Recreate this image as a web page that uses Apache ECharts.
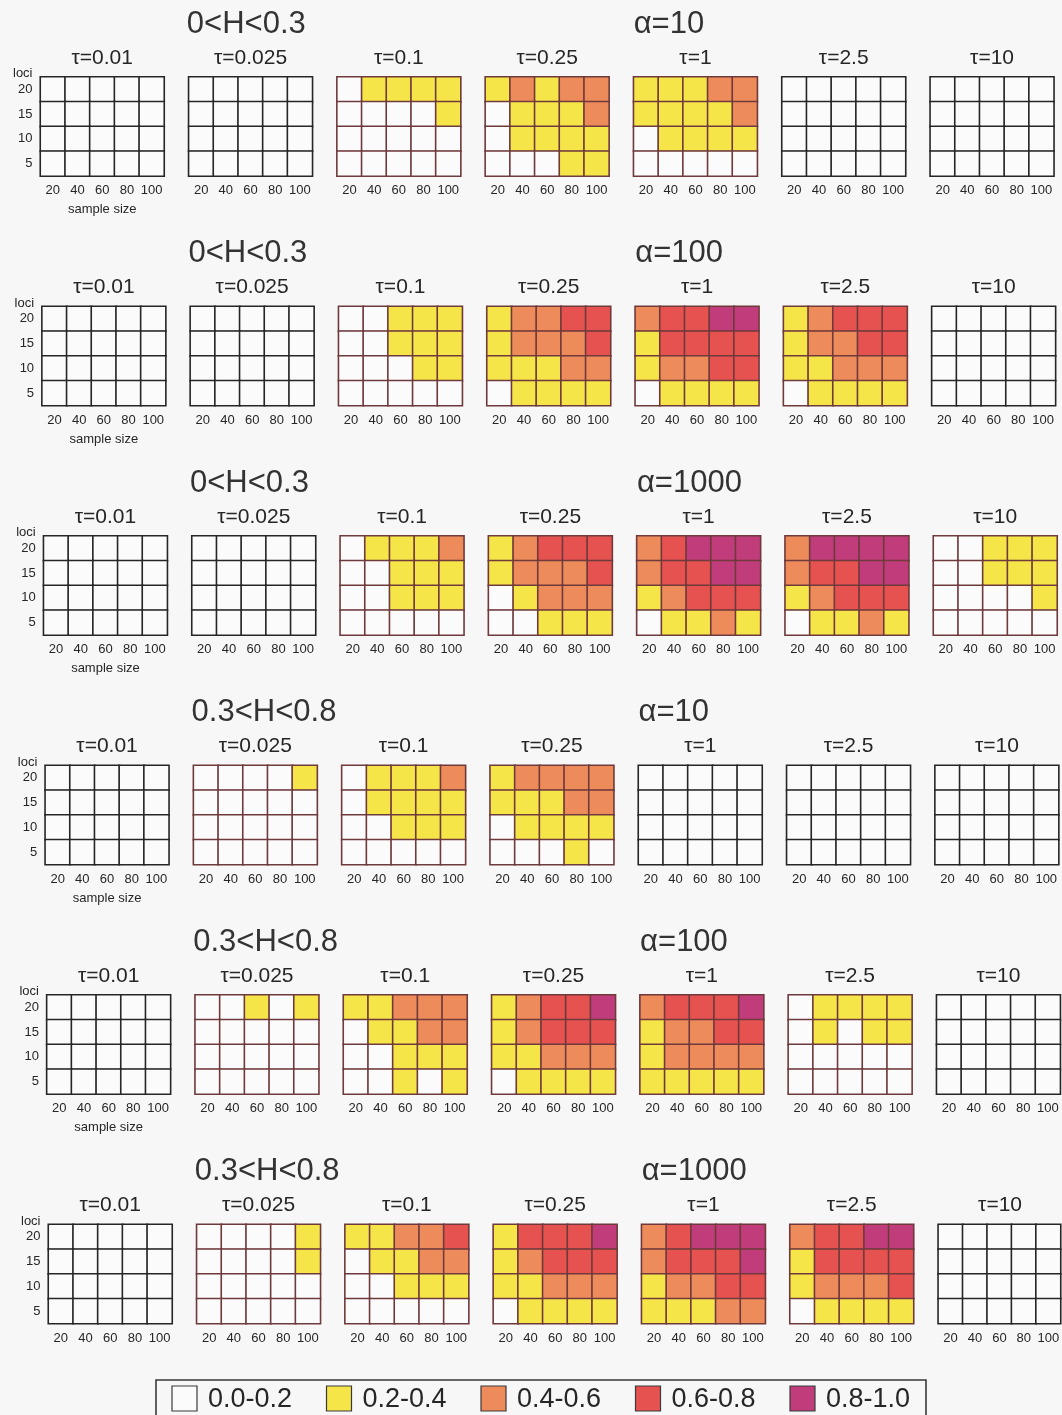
<!DOCTYPE html>
<html>
<head>
<meta charset="utf-8">
<title>Detection frequency by sample size and number of loci</title>
<script src="https://cdn.jsdelivr.net/npm/echarts/dist/echarts.min.js"></script>
<style>
  html, body { margin: 0; padding: 0; background: #f7f7f7; }
  #chart { width: 1062px; height: 1415px; }
</style>
</head>
<body>
<div id="chart"></div>
<script>
// Axis categories
const sampleSizes = ['20', '40', '60', '80', '100'];
const lociCounts = ['5', '10', '15', '20'];

// Panel and row captions
const tauLabels = ['τ=0.01', 'τ=0.025', 'τ=0.1', 'τ=0.25', 'τ=1', 'τ=2.5', 'τ=10'];
const heterozygosityLabels = ['0<H<0.3', '0<H<0.3', '0<H<0.3', '0.3<H<0.8', '0.3<H<0.8', '0.3<H<0.8'];
const alphaLabels = ['α=10', 'α=100', 'α=1000', 'α=10', 'α=100', 'α=1000'];

// Frequency classes (index 0..4)
const classLabels = ['0.0-0.2', '0.2-0.4', '0.4-0.6', '0.6-0.8', '0.8-1.0'];
const classColors = ['#fbfbfb', '#f6e548', '#ee8b5b', '#e5524f', '#c03c7a'];

// Frequency class per cell, one 4x5 block per tau value.
// Block rows run loci 20, 15, 10, 5; columns run sample size 20 .. 100.
const lowH_alpha10 = [
  [[0,0,0,0,0],[0,0,0,0,0],[0,0,0,0,0],[0,0,0,0,0]],
  [[0,0,0,0,0],[0,0,0,0,0],[0,0,0,0,0],[0,0,0,0,0]],
  [[0,1,1,1,1],[0,0,0,0,1],[0,0,0,0,0],[0,0,0,0,0]],
  [[1,2,1,2,2],[0,1,1,1,2],[0,1,1,1,1],[0,0,0,1,1]],
  [[1,1,1,2,2],[1,1,1,1,2],[0,1,1,1,1],[0,0,0,0,0]],
  [[0,0,0,0,0],[0,0,0,0,0],[0,0,0,0,0],[0,0,0,0,0]],
  [[0,0,0,0,0],[0,0,0,0,0],[0,0,0,0,0],[0,0,0,0,0]]
];
const lowH_alpha100 = [
  [[0,0,0,0,0],[0,0,0,0,0],[0,0,0,0,0],[0,0,0,0,0]],
  [[0,0,0,0,0],[0,0,0,0,0],[0,0,0,0,0],[0,0,0,0,0]],
  [[0,0,1,1,1],[0,0,1,1,1],[0,0,0,1,1],[0,0,0,0,0]],
  [[1,2,2,3,3],[1,2,2,2,3],[1,1,1,2,2],[0,1,1,1,1]],
  [[2,3,3,4,4],[1,3,3,3,3],[1,2,2,3,3],[0,1,1,1,1]],
  [[1,2,3,3,3],[1,2,2,3,3],[1,1,2,2,2],[0,1,1,1,1]],
  [[0,0,0,0,0],[0,0,0,0,0],[0,0,0,0,0],[0,0,0,0,0]]
];
const lowH_alpha1000 = [
  [[0,0,0,0,0],[0,0,0,0,0],[0,0,0,0,0],[0,0,0,0,0]],
  [[0,0,0,0,0],[0,0,0,0,0],[0,0,0,0,0],[0,0,0,0,0]],
  [[0,1,1,1,2],[0,0,1,1,1],[0,0,1,1,1],[0,0,0,0,0]],
  [[1,2,3,3,3],[1,2,2,2,3],[0,1,2,2,2],[0,0,1,1,1]],
  [[2,3,4,4,4],[2,3,3,4,4],[1,2,3,3,3],[0,1,1,2,1]],
  [[2,4,4,4,4],[2,3,3,4,4],[1,2,3,3,3],[0,1,1,2,1]],
  [[0,0,1,1,1],[0,0,1,1,1],[0,0,0,0,1],[0,0,0,0,0]]
];
const midH_alpha10 = [
  [[0,0,0,0,0],[0,0,0,0,0],[0,0,0,0,0],[0,0,0,0,0]],
  [[0,0,0,0,1],[0,0,0,0,0],[0,0,0,0,0],[0,0,0,0,0]],
  [[0,1,1,1,2],[0,1,1,1,1],[0,0,1,1,1],[0,0,0,0,0]],
  [[1,2,2,2,2],[1,1,1,2,2],[0,1,1,1,1],[0,0,0,1,0]],
  [[0,0,0,0,0],[0,0,0,0,0],[0,0,0,0,0],[0,0,0,0,0]],
  [[0,0,0,0,0],[0,0,0,0,0],[0,0,0,0,0],[0,0,0,0,0]],
  [[0,0,0,0,0],[0,0,0,0,0],[0,0,0,0,0],[0,0,0,0,0]]
];
const midH_alpha100 = [
  [[0,0,0,0,0],[0,0,0,0,0],[0,0,0,0,0],[0,0,0,0,0]],
  [[0,0,1,0,1],[0,0,0,0,0],[0,0,0,0,0],[0,0,0,0,0]],
  [[1,1,2,2,2],[0,1,1,2,2],[0,0,1,1,1],[0,0,1,0,1]],
  [[1,2,3,3,4],[1,2,3,3,3],[1,1,2,2,2],[0,1,1,1,1]],
  [[2,3,3,3,4],[1,2,2,3,3],[1,2,2,2,2],[1,1,1,1,1]],
  [[0,1,1,1,1],[0,1,0,1,1],[0,0,0,0,0],[0,0,0,0,0]],
  [[0,0,0,0,0],[0,0,0,0,0],[0,0,0,0,0],[0,0,0,0,0]]
];
const midH_alpha1000 = [
  [[0,0,0,0,0],[0,0,0,0,0],[0,0,0,0,0],[0,0,0,0,0]],
  [[0,0,0,0,1],[0,0,0,0,1],[0,0,0,0,0],[0,0,0,0,0]],
  [[1,1,2,2,3],[0,1,1,2,2],[0,0,1,1,1],[0,0,0,0,0]],
  [[1,3,3,3,4],[1,2,3,3,3],[1,1,2,2,2],[0,1,1,1,1]],
  [[2,3,4,4,4],[2,3,3,3,4],[1,2,2,3,3],[1,1,1,2,2]],
  [[2,3,3,4,4],[1,3,3,3,3],[1,2,2,2,3],[0,1,1,1,1]],
  [[0,0,0,0,0],[0,0,0,0,0],[0,0,0,0,0],[0,0,0,0,0]]
];

const panelRows = [lowH_alpha10, lowH_alpha100, lowH_alpha1000, midH_alpha10, midH_alpha100, midH_alpha1000];

// Layout
const FONT = "'Liberation Sans', Arial, Helvetica, sans-serif";
const PANEL_W = 123.5, PANEL_H = 99;
const STEP_X = 148.3, STEP_Y = 229.5;
const FIRST_LEFT = 40.5, ROW_DRIFT = 1.6, FIRST_TOP = 77;
const TEXT_COLOR = '#262626';

const grids = [], xAxes = [], yAxes = [], series = [], graphics = [];

panelRows.forEach((panels, r) => {
  const top = FIRST_TOP + r * STEP_Y;
  const rowLeft = FIRST_LEFT + ROW_DRIFT * r;

  panels.forEach((cells, c) => {
    const left = rowLeft + c * STEP_X;
    const idx = grids.length;
    const hasSignal = cells.some(row => row.some(v => v > 0));

    grids.push({ left, top, width: PANEL_W, height: PANEL_H });

    xAxes.push({
      type: 'category', gridIndex: idx, data: sampleSizes,
      axisLine: { show: false }, axisTick: { show: false }, splitLine: { show: false },
      axisLabel: { interval: 0, margin: 8, fontSize: 13, color: TEXT_COLOR, fontFamily: FONT },
      name: (c === 0 && r < panelRows.length - 1) ? 'sample size' : '',
      nameLocation: 'middle', nameGap: 27,
      nameTextStyle: { fontSize: 13, color: TEXT_COLOR, fontFamily: FONT }
    });

    yAxes.push({
      type: 'category', gridIndex: idx, data: lociCounts,
      axisLine: { show: false }, axisTick: { show: false }, splitLine: { show: false },
      axisLabel: { show: c === 0, interval: 0, margin: 8, fontSize: 13, color: TEXT_COLOR, fontFamily: FONT },
      name: c === 0 ? 'loci' : '',
      nameLocation: 'end', nameGap: -3,
      nameTextStyle: { fontSize: 13, color: TEXT_COLOR, fontFamily: FONT, align: 'right', verticalAlign: 'bottom', padding: [0, 8, 0, 0] }
    });

    const data = [];
    cells.forEach((row, i) => row.forEach((v, j) => data.push([j, lociCounts.length - 1 - i, v])));

    series.push({
      type: 'heatmap', xAxisIndex: idx, yAxisIndex: idx, data,
      itemStyle: { borderColor: hasSignal ? '#6f3a3c' : '#262626', borderWidth: 1.6 },
      emphasis: { disabled: true }, silent: true
    });

    graphics.push({
      type: 'text', x: left + PANEL_W / 2, y: top - 19,
      style: { text: tauLabels[c], fontSize: 21, fontFamily: FONT, fill: TEXT_COLOR, align: 'center', verticalAlign: 'middle' }
    });
  });

  graphics.push({
    type: 'text', x: rowLeft + STEP_X - 2, y: top - 53,
    style: { text: heterozygosityLabels[r], fontSize: 31, fontFamily: FONT, fill: '#333', align: 'left', verticalAlign: 'middle' }
  });
  graphics.push({
    type: 'text', x: rowLeft + 4 * STEP_X, y: top - 53,
    style: { text: alphaLabels[r], fontSize: 31, fontFamily: FONT, fill: '#333', align: 'left', verticalAlign: 'middle' }
  });
});

// Class legend along the bottom edge
const LEGEND_LEFT = 156, LEGEND_TOP = 1380, LEGEND_W = 770;
const legendChildren = [{
  type: 'rect', shape: { x: LEGEND_LEFT, y: LEGEND_TOP, width: LEGEND_W, height: 60 },
  style: { fill: 'none', stroke: '#3a3a3a', lineWidth: 1.6 }
}];
classLabels.forEach((label, k) => {
  const sx = LEGEND_LEFT + 16 + k * 154.5;
  legendChildren.push({
    type: 'rect', shape: { x: sx, y: LEGEND_TOP + 6, width: 25, height: 25 },
    style: { fill: classColors[k], stroke: '#3a3a3a', lineWidth: 1.2 }
  });
  legendChildren.push({
    type: 'text', x: sx + 36, y: LEGEND_TOP + 20,
    style: { text: label, fontSize: 27, fontFamily: FONT, fill: TEXT_COLOR, align: 'left', verticalAlign: 'middle' }
  });
});
graphics.push({ type: 'group', children: legendChildren });

const chart = echarts.init(document.getElementById('chart'), null, { renderer: 'canvas' });
chart.setOption({
  animation: false,
  backgroundColor: '#f7f7f7',
  grid: grids,
  xAxis: xAxes,
  yAxis: yAxes,
  visualMap: {
    type: 'piecewise', show: false, dimension: 2,
    pieces: classLabels.map((label, k) => ({ value: k, label, color: classColors[k] }))
  },
  series,
  graphic: graphics
});
</script>
</body>
</html>
